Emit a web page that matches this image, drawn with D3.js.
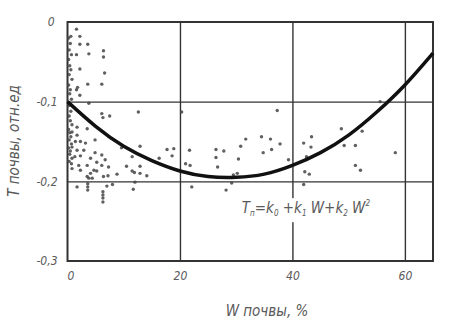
<!DOCTYPE html>
<html>
<head>
<meta charset="utf-8">
<script src="https://cdn.jsdelivr.net/npm/d3@7"></script>
<style>
  body { margin: 0; background: #fff; }
  text { font-family: "DejaVu Sans Condensed", "Liberation Sans Narrow", sans-serif; font-style: italic; fill: #5a5a5a; }
</style>
</head>
<body>
<div id="chart"></div>
<script>
// scatter: soil moisture W (%) and relative soil T
let obsW = [
  0.2, 0.5, 0.3, 0.7, 0.2, 0.4, 0.6, 0.3, 0.8, 0.2, 0.5, 0.4, 0.7, 0.2, 0.6, 0.3,
  0.5, 0.8, 0.2, 0.4, 0.6, 0.3, 0.7, 0.2, 0.5, 0.4, 0.8, 0.3,
  1.6, 2.2, 0.6, 2.2, 3.6, 6.4, 1.6, 3.8, 6.4, 2.2, 6.6, 3.6, 6.1, 1.8, 1.6, 2.2,
  3.8, 6.1, 7.5, 6.3, 12.6, 1.7, 0.8, 3.5, 1.7, 4.9, 1.4, 2.3, 3.2, 0.8, 1.7, 2.9,
  4.9, 6.1, 1.3, 2.3, 4.1, 5.2, 6.7, 0.7, 2.0, 3.5, 6.1, 7.3, 0.8, 2.3, 4.7, 5.2,
  4.1, 3.5, 3.8, 4.4, 6.4, 7.2, 8.8, 1.7, 3.6, 3.6, 3.6, 7.0, 8.0, 6.3, 6.3, 6.3,
  6.3, 11.7, 12.0,
  9.6, 12.9, 17.7, 18.9, 11.5, 18.6, 16.3, 10.5, 12.9, 11.5, 11.9, 12.9, 14.1,
  20.3, 21.0, 21.8, 21.7, 22.1, 26.4, 27.8, 26.4, 26.7, 28.2, 29.2, 29.5, 30.2,
  30.4, 30.8, 31.7, 34.5, 36.1, 37.8, 34.8, 36.3, 37.3, 39.3, 42.0, 43.4, 43.3,
  42.5, 42.2, 43.0, 42.0, 48.7, 52.4, 49.2, 51.2, 58.3, 51.2, 52.1, 55.6
];
let obsT = [
  -0.020, -0.027, -0.035, -0.041, -0.047, -0.055, -0.060, -0.066, -0.072, -0.079, -0.085, -0.090, -0.097, -0.105, -0.112, -0.118,
  -0.124, -0.129, -0.135, -0.139, -0.144, -0.148, -0.153, -0.158, -0.162, -0.166, -0.171, -0.175,
  -0.009, -0.018, -0.018, -0.028, -0.028, -0.036, -0.041, -0.040, -0.044, -0.059, -0.064, -0.078, -0.078, -0.082, -0.085, -0.092,
  -0.102, -0.115, -0.118, -0.120, -0.113, -0.132, -0.138, -0.134, -0.142, -0.148, -0.150, -0.150, -0.152, -0.157, -0.161, -0.161,
  -0.164, -0.167, -0.169, -0.168, -0.171, -0.176, -0.173, -0.178, -0.180, -0.180, -0.180, -0.182, -0.184, -0.186, -0.186, -0.187,
  -0.190, -0.194, -0.196, -0.196, -0.194, -0.193, -0.191, -0.207, -0.203, -0.207, -0.211, -0.206, -0.204, -0.213, -0.217, -0.221,
  -0.226, -0.210, -0.201,
  -0.158, -0.156, -0.160, -0.159, -0.169, -0.168, -0.171, -0.181, -0.181, -0.187, -0.189, -0.190, -0.193,
  -0.113, -0.178, -0.180, -0.161, -0.207, -0.160, -0.162, -0.170, -0.182, -0.211, -0.202, -0.192, -0.190,
  -0.172, -0.156, -0.147, -0.144, -0.147, -0.153, -0.164, -0.160, -0.111, -0.173, -0.152, -0.144, -0.157,
  -0.169, -0.188, -0.191, -0.204, -0.134, -0.137, -0.155, -0.155, -0.164, -0.180, -0.186, -0.100
];

// trend curve T = k0 + k1 W + k2 W^2
let curveW = [0, 5, 10, 15, 20, 25, 30, 35, 40, 45, 50, 55, 60, 65];
let curveT = [-0.100, -0.131, -0.156, -0.174, -0.187, -0.194, -0.195, -0.191, -0.180, -0.164, -0.142, -0.113, -0.079, -0.039];

let xTicks = [0, 20, 40, 60];
let yTicks = [0, -0.1, -0.2, -0.3];

/** CONSTANTS */
let width = 456,
  height = 325,
  margin = { top: 22, bottom: 64, left: 67.5, right: 23 };

/** SCALES */
let xScale = d3.scaleLinear()
  .domain([0, 65])
  .range([margin.left, width - margin.right]);

let yScale = d3.scaleLinear()
  .domain([-0.3, 0])
  .range([height - margin.bottom, margin.top]);

let svg = d3.select("#chart")
  .append("svg")
  .attr("width", width)
  .attr("height", height);

// grid lines
let gridX = d3.axisBottom(xScale)
  .tickValues(xTicks.slice(1))
  .tickSize(-(height - margin.bottom - margin.top))
  .tickFormat("");
svg.append("g")
  .attr("transform", `translate(0, ${height - margin.bottom})`)
  .call(gridX)
  .call(g => g.select(".domain").remove())
  .selectAll("line").attr("stroke", "#333").attr("stroke-width", 1.4);

let gridY = d3.axisLeft(yScale)
  .tickValues(yTicks.slice(1, 3))
  .tickSize(-(width - margin.left - margin.right))
  .tickFormat("");
svg.append("g")
  .attr("transform", `translate(${margin.left}, 0)`)
  .call(gridY)
  .call(g => g.select(".domain").remove())
  .selectAll("line").attr("stroke", "#333").attr("stroke-width", 1.4);

// frame
svg.append("rect")
  .attr("x", xScale(0))
  .attr("y", yScale(0))
  .attr("width", xScale(65) - xScale(0))
  .attr("height", yScale(-0.3) - yScale(0))
  .attr("fill", "none")
  .attr("stroke", "#333")
  .attr("stroke-width", 2);

// points
let obs = obsW.map((w, i) => ({ w: w, t: obsT[i] }));
svg.append("g")
  .selectAll("circle")
  .data(obs)
  .join("circle")
  .attr("cx", d => xScale(d.w))
  .attr("cy", d => yScale(d.t))
  .attr("r", 1.7)
  .attr("fill", "#444")
  .attr("opacity", 0.85);

// trend curve
let line = d3.line()
  .x(d => xScale(d.w))
  .y(d => yScale(d.t))
  .curve(d3.curveNatural);
svg.append("path")
  .datum(curveW.map((w, i) => ({ w: w, t: curveT[i] })))
  .attr("d", line)
  .attr("fill", "none")
  .attr("stroke", "#111")
  .attr("stroke-width", 3.5);

// tick labels
let xAxis = d3.axisBottom(xScale).tickValues(xTicks).tickSize(0).tickPadding(10);
svg.append("g")
  .attr("transform", `translate(0, ${height - margin.bottom})`)
  .call(xAxis)
  .call(g => g.select(".domain").remove())
  .selectAll("text")
  .attr("font-size", 12)
  .attr("dx", d => d === 0 ? 3 : 0)
  .style("font-family", null);

let yAxis = d3.axisLeft(yScale)
  .tickValues(yTicks)
  .tickSize(0)
  .tickPadding(10)
  .tickFormat(d => d === 0 ? "0" : "-" + Math.abs(d).toFixed(1).replace(".", ","));
svg.append("g")
  .attr("transform", `translate(${margin.left}, 0)`)
  .call(yAxis)
  .call(g => g.select(".domain").remove())
  .selectAll("text")
  .attr("font-size", 12)
  .attr("dx", d => d === 0 ? -3 : 0)
  .style("font-family", null);

// formula label with white knockout
let label = svg.append("g").attr("transform", `translate(${xScale(31)}, ${yScale(-0.24)})`);
label.append("rect")
  .attr("x", -2).attr("y", -15).attr("width", 106).attr("height", 24)
  .attr("fill", "#fff");
let ft = label.append("text").attr("font-size", 15);
ft.append("tspan").text("T");
ft.append("tspan").attr("font-size", 8).attr("dy", 3).text("п");
ft.append("tspan").attr("dy", -3).text("=k");
ft.append("tspan").attr("font-size", 8).attr("dy", 3).text("0");
ft.append("tspan").attr("dy", -3).text(" +k");
ft.append("tspan").attr("font-size", 8).attr("dy", 3).text("1");
ft.append("tspan").attr("dy", -3).text(" W+k");
ft.append("tspan").attr("font-size", 8).attr("dy", 3).text("2");
ft.append("tspan").attr("dy", -3).text(" W");
ft.append("tspan").attr("font-size", 8).attr("dy", -7).text("2");

// axis titles
svg.append("text")
  .attr("x", 267)
  .attr("y", 316)
  .attr("text-anchor", "middle")
  .attr("font-size", 15)
  .text("W почвы, %");

svg.append("text")
  .attr("transform", "translate(19, 141) rotate(-90)")
  .attr("text-anchor", "middle")
  .attr("font-size", 15)
  .text("T почвы, отн.ед");
</script>
</body>
</html>
